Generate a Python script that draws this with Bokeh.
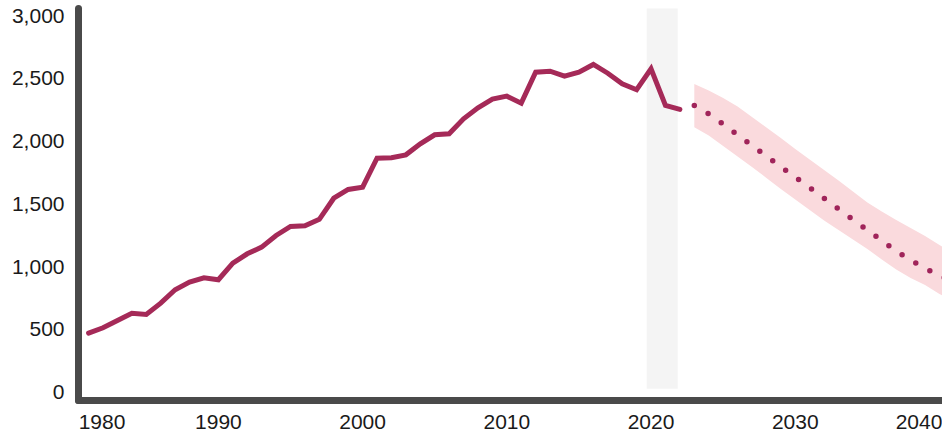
from bokeh.plotting import figure
from bokeh.models import FixedTicker, NumeralTickFormatter, Range1d
from bokeh.embed import file_html
from bokeh.resources import INLINE

# ---- data ----
hist_years = list(range(1981, 2023))
hist_values = [469, 512, 570, 628, 618, 708, 815, 876, 911, 895,
               1027, 1102, 1155, 1248, 1320, 1325, 1377, 1545, 1615, 1633,
               1864, 1868, 1891, 1979, 2051, 2059, 2178, 2266, 2335, 2359,
               2303, 2550, 2558, 2518, 2550, 2612, 2542, 2458, 2410, 2577,
               2285, 2253]

fc_years = list(range(2023, 2042))
fc_values = [2285, 2217, 2136, 2050, 1966, 1881, 1797, 1713, 1630, 1545,
             1459, 1374, 1291, 1207, 1123, 1051, 986, 929, 875]
fc_upper = [2456, 2404, 2344, 2277, 2193, 2109, 2026, 1938, 1854, 1770,
            1687, 1599, 1511, 1439, 1372, 1308, 1244, 1172, 1105]
fc_lower = [2112, 2045, 1962, 1878, 1794, 1707, 1619, 1535, 1451, 1368,
            1292, 1216, 1140, 1057, 977, 909, 853, 781, 730]

band_x = [2019.7, 2021.85]
band_y = [25, 3075]

y_ticks = [0, 500, 1000, 1500, 2000, 2500, 3000]
x_tick_years = [1980, 1990, 2000, 2010, 2020, 2030, 2040]

# ---- figure ----
X0, X1 = 1980.3, 2040.21
Y0, Y1 = -68, 3058
FRAME_W = 942 - 78

p = figure(width=942, height=436, output_backend="svg", toolbar_location=None,
           x_range=Range1d(X0, X1), y_range=Range1d(Y0, Y1),
           min_border_left=78, min_border_right=0, min_border_top=8,
           min_border_bottom=36)
p.outline_line_color = None
p.grid.visible = False
p.background_fill_color = "white"
p.border_fill_color = "white"

# shaded period
p.quad(left=band_x[0], right=band_x[1], bottom=band_y[0], top=band_y[1],
       fill_color="#f4f4f4", line_color=None)

# forecast uncertainty band
p.varea(x=fc_years, y1=fc_lower, y2=fc_upper, fill_color="#fadadd")

# history
p.line(hist_years, hist_values, line_width=5, line_color="#a52a58",
       line_join="miter", line_cap="round")

# forecast (dotted)
p.line(fc_years, fc_values, line_width=5.5, line_color="#a0245a",
       line_dash="0 16", line_cap="round")

# ---- axes ----
# edge labels are kept inside the plot width as in the original
px_per_year = FRAME_W / (X1 - X0)
half_label = 23.5 / px_per_year
x_tick_pos = [X0 + half_label] + x_tick_years[1:-1] + [X1 - half_label]
p.xaxis.ticker = FixedTicker(ticks=x_tick_pos)
p.xaxis.major_label_overrides = {x_tick_pos[0]: str(x_tick_years[0]),
                                 x_tick_pos[-1]: str(x_tick_years[-1])}
p.yaxis.ticker = FixedTicker(ticks=y_ticks)
p.yaxis.formatter = NumeralTickFormatter(format="0,0")

for ax in (p.xaxis[0], p.yaxis[0]):
    ax.axis_line_width = 7
    ax.axis_line_color = "#4a4a4a"
    ax.axis_line_cap = "round"
    ax.major_tick_line_color = None
    ax.minor_tick_line_color = None
    ax.major_label_text_font = "Liberation Sans"
    ax.major_label_text_font_size = "21px"
    ax.major_label_text_color = "#1a1a1a"

p.yaxis.major_label_standoff = 8
p.xaxis.major_label_standoff = 8

open("out.html", "w").write(file_html(p, INLINE))
